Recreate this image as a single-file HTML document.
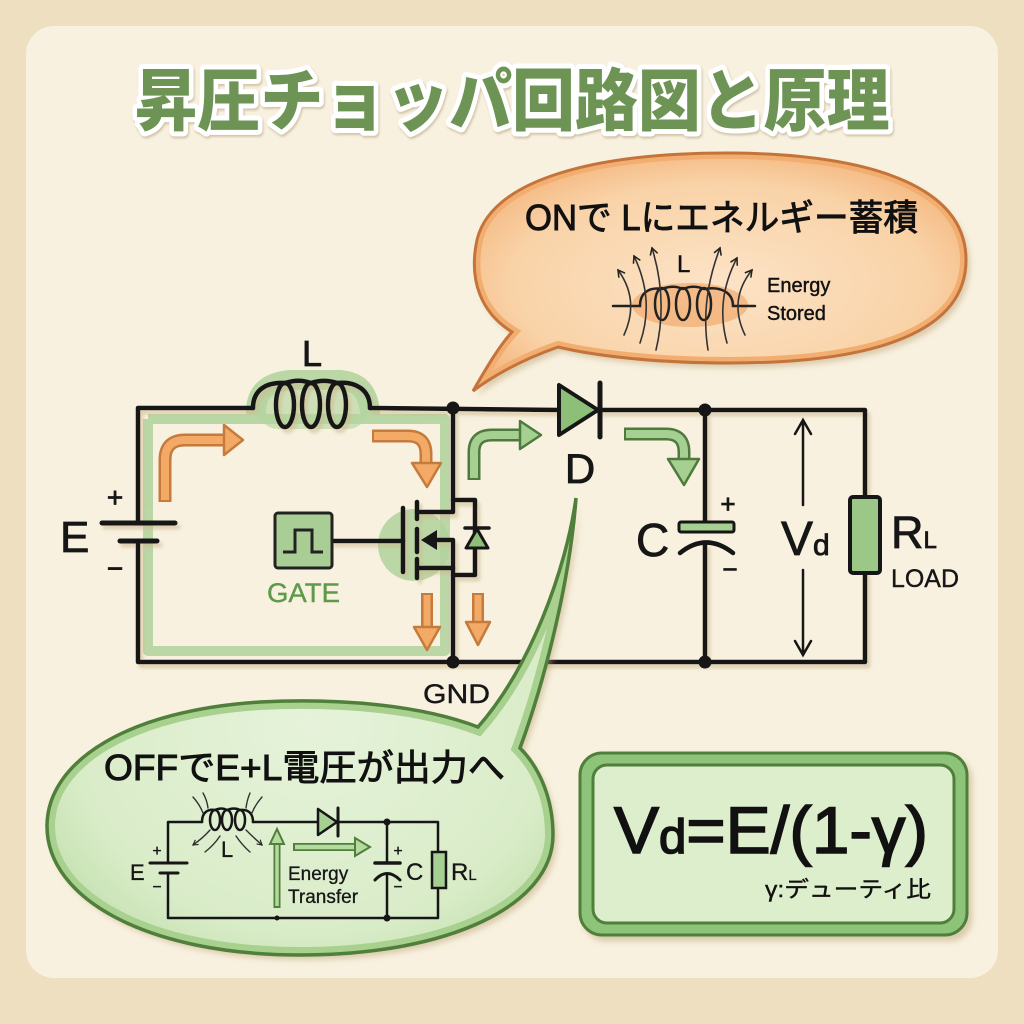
<!DOCTYPE html>
<html><head><meta charset="utf-8"><style>
html,body{margin:0;padding:0;background:#EEDFC0;}
svg{display:block;}
text{font-family:"Liberation Sans","Noto Sans CJK JP",sans-serif;}
</style></head><body>
<svg width="1024" height="1024" viewBox="0 0 1024 1024" xmlns="http://www.w3.org/2000/svg">
<defs>
  <filter id="sh" x="-10%" y="-10%" width="130%" height="130%">
    <feDropShadow dx="4" dy="5" stdDeviation="3" flood-color="#B89E72" flood-opacity="0.45"/>
  </filter>
  <filter id="shw" x="-10%" y="-10%" width="130%" height="130%">
    <feDropShadow dx="3" dy="4" stdDeviation="1.5" flood-color="#CDB88F" flood-opacity="0.6"/>
  </filter>
  <radialGradient id="og" cx="50%" cy="55%" r="60%">
    <stop offset="0" stop-color="#FCE3C6"/><stop offset="0.7" stop-color="#F9D3A8"/><stop offset="1" stop-color="#F4B57C"/>
  </radialGradient>
  <radialGradient id="gg" cx="50%" cy="50%" r="60%">
    <stop offset="0" stop-color="#E6F3DA"/><stop offset="0.75" stop-color="#D9ECC8"/><stop offset="1" stop-color="#C3E0AE"/>
  </radialGradient>
  <path id="obub" d="M473,391 C488,365 500,345 512,332 C480,312 470,280 476,245 C486,178 600,152 735,153 C880,155 966,190 966,260 C966,330 880,363 730,363 C650,363 592,355 558,347 C530,357 498,372 473,391 Z"/>
  <path id="gbub" d="M576,498 C566,570 530,668 478,727 C420,705 340,698 260,702 C130,710 48,760 47,825 C46,900 150,955 300,955 C450,955 553,905 553,835 C553,795 537,765 520,748 C545,680 570,580 576,498 Z"/>
  <clipPath id="oclip"><use href="#obub"/></clipPath>
  <clipPath id="gclip"><use href="#gbub"/></clipPath>
  <marker id="ah" viewBox="0 0 10 10" refX="8" refY="5" markerWidth="6" markerHeight="6" orient="auto">
    <path d="M1,1 L8,5 L1,9" fill="none" stroke="#222" stroke-width="1.6"/>
  </marker>
  <marker id="ahs" viewBox="0 0 10 10" refX="8" refY="5" markerWidth="5" markerHeight="5" orient="auto">
    <path d="M1,1 L8,5 L1,9" fill="none" stroke="#222" stroke-width="1.6"/>
  </marker>
</defs>

<rect x="0" y="0" width="1024" height="1024" fill="#EEDFC0"/>
<rect x="26" y="26" width="972" height="952" rx="28" fill="#F8F1DF"/>

<text x="512" y="125" text-anchor="middle" font-size="68" font-weight="900" fill="#6E9455" stroke="#FFFFFF" stroke-width="10" stroke-linejoin="round" paint-order="stroke" textLength="755" lengthAdjust="spacingAndGlyphs" style="font-family:'Noto Sans CJK JP',sans-serif;filter:drop-shadow(1px 2px 1px rgba(150,130,90,0.4))">昇圧チョッパ回路図と原理</text>

<g filter="url(#sh)">
  <use href="#obub" fill="url(#og)"/>
</g>
<use href="#obub" fill="none" stroke="#F2AE70" stroke-width="12" clip-path="url(#oclip)"/>
<use href="#obub" fill="none" stroke="#C4743A" stroke-width="3"/>
<text x="525" y="230" font-size="36" fill="#111" stroke="#111" stroke-width="0.9" textLength="393" lengthAdjust="spacingAndGlyphs">ONで Lにエネルギー蓄積</text>
<ellipse cx="690" cy="305" rx="58" ry="22" fill="#F2AE74" opacity="0.75"/>
<g fill="none" stroke="#222" stroke-width="2.5" stroke-linecap="round">
  <path d="M613,306 L640,306 C640,292 650,287 662,289"/>
  <ellipse cx="662" cy="304" rx="7" ry="16"/>
  <ellipse cx="683" cy="304" rx="7" ry="16"/>
  <ellipse cx="704" cy="304" rx="7" ry="16"/>
  <path d="M662,289 C670,286 676,286 683,289 C690,286 697,286 704,289 C720,286 733,292 733,306 L755,306"/>
</g>
<g fill="none" stroke="#333" stroke-width="1.6" stroke-linecap="round">
  <path d="M624,335 Q640,300 618,270" marker-end="url(#ah)"/>
  <path d="M640,343 Q655,300 634,256" marker-end="url(#ah)"/>
  <path d="M656,350 Q668,300 652,248" marker-end="url(#ah)"/>
  <path d="M708,350 Q700,300 720,248" marker-end="url(#ah)"/>
  <path d="M727,343 Q715,300 737,258" marker-end="url(#ah)"/>
  <path d="M745,335 Q728,300 752,270" marker-end="url(#ah)"/>
</g>
<g fill="#111" stroke="#111" stroke-width="0.4">
<text x="677" y="272" font-size="24">L</text>
<text x="767" y="292" font-size="20">Energy</text>
<text x="767" y="320" font-size="20">Stored</text>
</g>

<g fill="none" stroke="#B3D49F" stroke-linejoin="round" opacity="0.9">
  <path d="M148,419 L148,651 L445,651 L445,419 L148,419" stroke-width="10"/>
  <path d="M256,412 C256,390 270,382 290,380 L340,380 C360,382 368,392 370,412" stroke-width="20" stroke-linecap="round"/>
</g>
<circle cx="414" cy="545" r="36" fill="#B3D49F" opacity="0.9"/>
<rect x="258" y="385" width="110" height="44" rx="20" fill="#B3D49F" opacity="0.6"/>

<g filter="url(#shw)" fill="none" stroke="#161616" stroke-width="4.5" stroke-linecap="round" stroke-linejoin="round">
  <path d="M253,408 L138,408 L138,523"/>
  <path d="M138,541 L138,662 L865,662 L865,573"/>
  <path d="M865,497 L865,410 L600,410"/>
  <path d="M370,408 L559,410"/>
  <path d="M453,408 L453,512 L417,512"/>
  <path d="M453,500 L475,500 L475,575 L453,575"/>
  <path d="M417,568 L453,568"/>
  <path d="M432,540 L453,540 L453,662"/>
  <path d="M332,541 L403,541"/>
  <path d="M403,508 L403,572"/>
  <path d="M417,502 L417,519 M417,529 L417,552 M417,559 L417,578"/>
  <path d="M705,410 L705,522 M705,545 L705,662"/>
  <path d="M102,523 L175,523" stroke-width="5"/>
  <path d="M120,541 L157,541" stroke-width="5"/>
  <path d="M253,408 C253,390 266,382 285,383"/>
  <ellipse cx="285" cy="405" rx="9" ry="22"/>
  <ellipse cx="311" cy="405" rx="9" ry="22"/>
  <ellipse cx="337" cy="405" rx="9" ry="22"/>
  <path d="M285,383 C295,380 302,380 311,383 C320,380 328,380 337,383 C356,381 370,390 370,408"/>
</g>
<polygon points="421,540 437,530 437,550" fill="#161616"/>
<polygon points="466,548 488,548 477,529" fill="#8DBF78" stroke="#161616" stroke-width="3" stroke-linejoin="round"/>
<path d="M465,528 L489,528" stroke="#161616" stroke-width="3.5" stroke-linecap="round"/>
<polygon points="559,385 559,435 598,410" fill="#8DBF78" stroke="#161616" stroke-width="4" stroke-linejoin="round"/>
<path d="M600,383 L600,437" stroke="#161616" stroke-width="5" stroke-linecap="round"/>
<rect x="679" y="522" width="55" height="10" rx="2" fill="#A6CF92" stroke="#161616" stroke-width="3"/>
<path d="M680,553 Q706,532 733,553" fill="none" stroke="#161616" stroke-width="4.5" stroke-linecap="round"/>
<rect x="850" y="497" width="30" height="76" rx="3" fill="#9CC887" stroke="#161616" stroke-width="4"/>
<g fill="#161616">
  <circle cx="453" cy="408" r="6.5"/><circle cx="705" cy="410" r="6.5"/>
  <circle cx="453" cy="662" r="6.5"/><circle cx="705" cy="662" r="6.5"/>
</g>
<rect x="275" y="513" width="57" height="55" rx="3" fill="#A9CE95" stroke="#222" stroke-width="3"/>
<path d="M283,552 L295,552 L295,530 L312,530 L312,552 L323,552" fill="none" stroke="#222" stroke-width="3"/>
<g stroke="#161616" stroke-width="2.5" fill="none" stroke-linecap="round">
  <path d="M803,505 L803,420 M795,434 L803,420 L811,434"/>
  <path d="M803,570 L803,655 M795,641 L803,655 L811,641"/>
</g>

<g stroke-linecap="butt" stroke-linejoin="round" fill="none">
  <path d="M165,502 L165,460 Q165,440 185,440 L226,440" stroke="#C67A3C" stroke-width="13"/>
  <path d="M165,500 L165,460 Q165,440 185,440 L227,440" stroke="#F3AA66" stroke-width="8"/>
  <path d="M372,436 L408,436 Q426,436 426,454 L426,466" stroke="#C67A3C" stroke-width="13"/>
  <path d="M374,436 L408,436 Q426,436 426,454 L426,467" stroke="#F3AA66" stroke-width="8"/>
  <path d="M427,593 L427,630" stroke="#C67A3C" stroke-width="12"/>
  <path d="M427,595 L427,631" stroke="#F3AA66" stroke-width="7"/>
  <path d="M478,593 L478,625" stroke="#C67A3C" stroke-width="12"/>
  <path d="M478,595 L478,626" stroke="#F3AA66" stroke-width="7"/>
</g>
<g fill="#F3AA66" stroke="#C67A3C" stroke-width="2.5" stroke-linejoin="round">
  <polygon points="224,425 243,440 224,455"/>
  <polygon points="412,463 441,463 427,487"/>
  <polygon points="414,627 440,627 427,650"/>
  <polygon points="466,622 490,622 478,645"/>
</g>
<g fill="none" stroke-linejoin="round">
  <path d="M474,480 L474,452 Q474,435 492,435 L522,435" stroke="#4E7A3E" stroke-width="13"/>
  <path d="M474,478 L474,452 Q474,435 492,435 L523,435" stroke="#A6CF92" stroke-width="8"/>
  <path d="M624,434 L666,434 Q684,434 684,452 L684,462" stroke="#4E7A3E" stroke-width="13"/>
  <path d="M626,434 L666,434 Q684,434 684,452 L684,463" stroke="#A6CF92" stroke-width="8"/>
</g>
<g fill="#A6CF92" stroke="#4E7A3E" stroke-width="2.5" stroke-linejoin="round">
  <polygon points="520,421 541,435 520,449"/>
  <polygon points="668,459 699,459 684,485"/>
</g>

<g fill="#161616" stroke="#161616" stroke-width="0.8">
  <text x="302" y="366" font-size="36">L</text>
  <text x="60" y="552" font-size="44">E</text>
  <text x="115" y="507" font-size="28" text-anchor="middle">+</text>
  <text x="115" y="578" font-size="28" text-anchor="middle">−</text>
  <text x="580" y="483" font-size="42" text-anchor="middle">D</text>
  <text x="636" y="556" font-size="46">C</text>
  <text x="728" y="513" font-size="26" text-anchor="middle">+</text>
  <text x="730" y="578" font-size="26" text-anchor="middle">−</text>
  <text x="781" y="555" font-size="48">V<tspan font-size="30">d</tspan></text>
  <text x="891" y="548" font-size="45">R<tspan font-size="24">L</tspan></text>
  <text x="891" y="587" font-size="25" stroke-width="0.4" textLength="68" lengthAdjust="spacingAndGlyphs">LOAD</text>
  <text x="423" y="703" font-size="27" stroke-width="0.4" textLength="67" lengthAdjust="spacingAndGlyphs">GND</text>
</g>
<text x="267" y="602" font-size="27" fill="#5E9A4A" stroke="#5E9A4A" stroke-width="0.4" textLength="73" lengthAdjust="spacingAndGlyphs">GATE</text>

<g filter="url(#sh)">
  <use href="#gbub" fill="url(#gg)"/>
</g>
<use href="#gbub" fill="none" stroke="#A8D08F" stroke-width="16" clip-path="url(#gclip)"/>
<use href="#gbub" fill="none" stroke="#4F7F3A" stroke-width="3.5"/>
<text x="104" y="780" font-size="36" fill="#111" stroke="#111" stroke-width="0.9" textLength="401" lengthAdjust="spacingAndGlyphs">OFFでE+L電圧が出力へ</text>

<g fill="none" stroke="#161616" stroke-width="2.5" stroke-linecap="round" stroke-linejoin="round">
  <path d="M168,863 L168,822 L202,822"/>
  <path d="M168,873 L168,918 L438,918 L438,888"/>
  <path d="M438,852 L438,822 L338,822"/>
  <path d="M318,822 L253,822"/>
  <path d="M150,863 L187,863" stroke-width="3"/>
  <path d="M160,873 L178,873" stroke-width="3"/>
  <path d="M202,822 C202,812 208,809 215,810"/>
  <ellipse cx="215" cy="820" rx="5" ry="10"/>
  <ellipse cx="227" cy="820" rx="5" ry="10"/>
  <ellipse cx="240" cy="820" rx="5" ry="10"/>
  <path d="M215,810 C220,808 223,808 227,810 C232,808 236,808 240,810 C249,809 253,814 253,822"/>
  <path d="M387,822 L387,863 M387,875 L387,918"/>
  <path d="M375,863 L400,863" stroke-width="3.5"/>
  <path d="M375,880 Q387,867 400,880" stroke-width="3"/>
  <path d="M338,808 L338,836" stroke-width="3"/>
</g>
<polygon points="318,809 318,835 337,822" fill="#A6CF92" stroke="#161616" stroke-width="2.5" stroke-linejoin="round"/>
<rect x="432" y="852" width="14" height="36" fill="#A6CF92" stroke="#161616" stroke-width="2.5"/>
<g fill="#161616"><circle cx="387" cy="822" r="3.5"/><circle cx="387" cy="918" r="3.5"/><circle cx="277" cy="918" r="2.5"/></g>
<g fill="none" stroke="#333" stroke-width="1.4" stroke-linecap="round">
  <path d="M193,797 Q200,805 203,813"/>
  <path d="M203,793 Q207,800 208,808"/>
  <path d="M250,793 Q247,800 246,808"/>
  <path d="M262,797 Q255,805 252,813"/>
  <path d="M210,830 Q203,838 193,845" marker-end="url(#ahs)"/>
  <path d="M246,830 Q254,838 262,845" marker-end="url(#ahs)"/>
  <path d="M220,836 Q214,845 205,852"/>
  <path d="M236,836 Q242,845 250,852"/>
</g>
<path d="M277,908 L277,843" stroke="#4F7F3A" stroke-width="7" fill="none"/>
<path d="M277,906 L277,843" stroke="#B5DAA0" stroke-width="3.5" fill="none"/>
<polygon points="270,844 277,829 284,844" fill="#B5DAA0" stroke="#4F7F3A" stroke-width="2"/>
<path d="M293,847 L356,847" stroke="#4F7F3A" stroke-width="8" fill="none"/>
<path d="M295,847 L357,847" stroke="#B5DAA0" stroke-width="4.5" fill="none"/>
<polygon points="355,838 370,847 355,856" fill="#B5DAA0" stroke="#4F7F3A" stroke-width="2"/>
<g fill="#161616" stroke="#161616" stroke-width="0.3">
  <text x="130" y="880" font-size="22">E</text>
  <text x="157" y="856" font-size="16" text-anchor="middle">+</text>
  <text x="157" y="892" font-size="16" text-anchor="middle">−</text>
  <text x="221" y="857" font-size="22">L</text>
  <text x="288" y="880" font-size="19">Energy</text>
  <text x="288" y="903" font-size="19">Transfer</text>
  <text x="398" y="856" font-size="16" text-anchor="middle">+</text>
  <text x="398" y="892" font-size="16" text-anchor="middle">−</text>
  <text x="406" y="880" font-size="24">C</text>
  <text x="451" y="880" font-size="24">R<tspan font-size="15">L</tspan></text>
</g>

<g filter="url(#sh)">
  <rect x="580" y="753" width="387" height="182" rx="22" fill="#8DC47A" stroke="#4F7F3A" stroke-width="3"/>
</g>
<rect x="593" y="765" width="361" height="158" rx="14" fill="#DDEECC" stroke="#4F7F3A" stroke-width="3"/>
<text x="614" y="853" font-size="66" fill="#111" stroke="#111" stroke-width="1.6" textLength="314" lengthAdjust="spacingAndGlyphs">V<tspan font-size="48">d</tspan>=E/(1-γ)</text>
<text x="765" y="897" font-size="22" fill="#111" stroke="#111" stroke-width="0.4" textLength="166" lengthAdjust="spacingAndGlyphs">γ:デューティ比</text>
</svg>
</body></html>
